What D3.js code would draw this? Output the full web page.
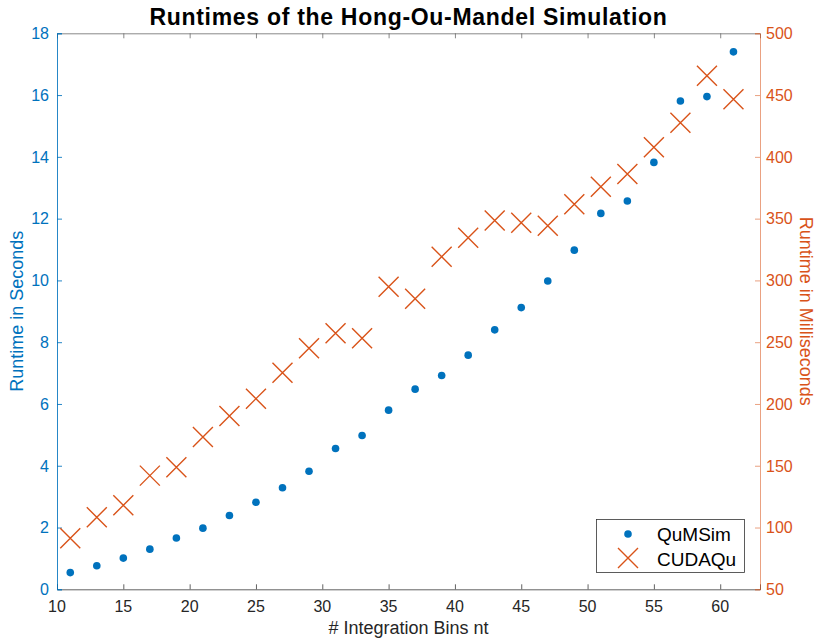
<!DOCTYPE html>
<html><head><meta charset="utf-8">
<script src="https://cdn.jsdelivr.net/npm/d3@7"></script>
<style>body{margin:0;background:#fff}svg{display:block}text{font-family:"Liberation Sans",Arial,Helvetica,sans-serif}</style>
</head><body>
<svg id="c" width="817" height="641"></svg>
<script>
const bins = [11,13,15,17,19,21,23,25,27,29,31,33,35,37,39,41,43,45,47,49,51,53,55,57,59,61];
const qumsimSec = [0.54,0.76,1.01,1.30,1.66,1.98,2.39,2.82,3.29,3.82,4.56,4.98,5.80,6.48,6.92,7.58,8.40,9.12,9.98,10.98,12.17,12.57,13.82,15.81,15.95,17.40];
const cudaqMs = [91.3,108.3,118.0,142.0,148.7,173.3,190.3,204.3,225.3,245.1,257.2,253.2,294.9,285.2,319.2,334.6,348.4,346.7,344.3,361.6,375.9,386.1,407.8,427.7,465.7,446.6];
const xTicks = [10,15,20,25,30,35,40,45,50,55,60];
const yLeftTicks = [0,2,4,6,8,10,12,14,16,18];
const yRightTicks = [50,100,150,200,250,300,350,400,450,500];
const seriesNames = ["QuMSim","CUDAQu"];
const titleText = "Runtimes of the Hong-Ou-Mandel Simulation";

const blue = "#0072BD", orange = "#D95319";
const L = 57, R = 760, T = 33.3, B = 589.3;
const svg = d3.select("#c");
const x = d3.scaleLinear().domain([10,63]).range([L,R]);
const yL = d3.scaleLinear().domain([0,18]).range([B,T]);
const yR = d3.scaleLinear().domain([50,500]).range([B,T]);

// top axis
svg.append("g").attr("transform",`translate(0,${T})`)
  .call(d3.axisBottom(x).tickValues(xTicks).tickSize(5).tickFormat(""))
  .call(g=>{g.selectAll("path,line").attr("stroke","#6a6a6a").attr("stroke-width",0.8);});
// bottom axis
svg.append("g").attr("transform",`translate(0,${B})`)
  .call(d3.axisTop(x).tickValues(xTicks).tickSize(5).tickFormat(""))
  .call(g=>{g.selectAll("path,line").attr("stroke","#3a3a3a").attr("stroke-width",0.8);});
svg.append("g").selectAll("text").data(xTicks).join("text")
  .attr("x",d=>x(d)).attr("y",611.5).attr("text-anchor","middle")
  .attr("font-size",16).attr("fill","#262626").text(d=>d);

// left axis
svg.append("g").attr("transform",`translate(${L},0)`)
  .call(d3.axisRight(yL).tickValues(yLeftTicks).tickSize(5).tickFormat(""))
  .call(g=>{g.selectAll("path,line").attr("stroke",blue).attr("stroke-opacity",0.85).attr("stroke-width",1);});
svg.append("g").selectAll("text").data(yLeftTicks).join("text")
  .attr("x",49).attr("y",d=>yL(d)).attr("dy","0.36em").attr("text-anchor","end")
  .attr("font-size",16).attr("fill",blue).text(d=>d);

// right axis
svg.append("g").attr("transform",`translate(${R},0)`)
  .call(d3.axisLeft(yR).tickValues(yRightTicks).tickSize(5).tickFormat(""))
  .call(g=>{g.selectAll("path,line").attr("stroke",orange).attr("stroke-opacity",0.55).attr("stroke-width",1);});
svg.append("g").selectAll("text").data(yRightTicks).join("text")
  .attr("x",766).attr("y",d=>yR(d)).attr("dy","0.36em").attr("text-anchor","start")
  .attr("font-size",16).attr("fill",orange).text(d=>d);

// data
svg.append("g").selectAll("circle").data(bins).join("circle")
  .attr("cx",(d)=>x(d)).attr("cy",(d,i)=>yL(qumsimSec[i])).attr("r",3.8).attr("fill",blue);
const cross = (g,cx,cy,s)=>g.append("path")
  .attr("d",`M${cx-s},${cy-s}L${cx+s},${cy+s}M${cx-s},${cy+s}L${cx+s},${cy-s}`)
  .attr("stroke",orange).attr("stroke-width",1.4).attr("fill","none");
const cg = svg.append("g");
bins.forEach((d,i)=>cross(cg,x(d),yR(cudaqMs[i]),10));

// title and labels
svg.append("text").attr("x",(L+R)/2).attr("y",25).attr("text-anchor","middle")
  .attr("font-size",23).attr("letter-spacing",0.7).attr("font-weight","bold").attr("fill","#000").text(titleText);
svg.append("text").attr("x",(L+R)/2).attr("y",633.5).attr("text-anchor","middle")
  .attr("font-size",18).attr("fill","#262626").text("# Integration Bins nt");
svg.append("text").attr("transform",`translate(23,${(T+B)/2}) rotate(-90)`).attr("text-anchor","middle")
  .attr("font-size",18).attr("fill",blue).text("Runtime in Seconds");
svg.append("text").attr("transform",`translate(800,${(T+B)/2}) rotate(90)`).attr("text-anchor","middle")
  .attr("font-size",18).attr("fill",orange).text("Runtime in Milliseconds");

// legend
const lg = svg.append("g");
lg.append("rect").attr("x",596.5).attr("y",519.5).attr("width",148).attr("height",53)
  .attr("fill","#fff").attr("stroke","#333").attr("stroke-width",0.8);
lg.append("circle").attr("cx",628).attr("cy",534).attr("r",3.8).attr("fill",blue);
cross(lg,628,558,10);
lg.append("text").attr("x",657).attr("y",541).attr("font-size",19).attr("fill","#000").text(seriesNames[0]);
lg.append("text").attr("x",657).attr("y",565.5).attr("font-size",19).attr("fill","#000").text(seriesNames[1]);
</script>
</body></html>
